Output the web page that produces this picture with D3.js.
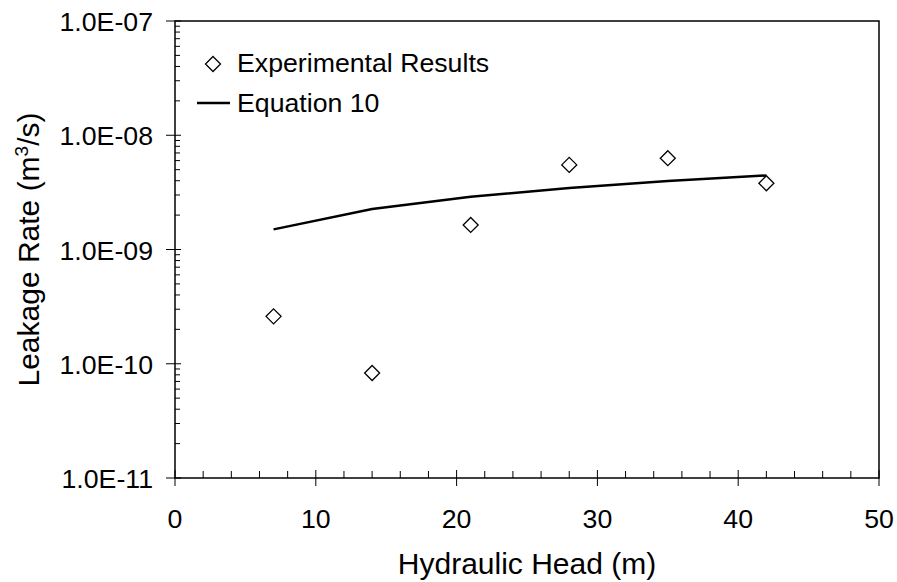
<!DOCTYPE html>
<html>
<head>
<meta charset="utf-8">
<script src="https://cdn.jsdelivr.net/npm/d3@7"></script>
<style>
  body { margin: 0; background: #fff; }
  text { font-family: "Liberation Sans", Arial, sans-serif; fill: #000; }
</style>
</head>
<body>
<svg id="chart" width="897" height="582"></svg>
<script>
// data
const heads = [7, 14, 21, 28, 35, 42]
const experimental = [2.6e-10, 8.3e-11, 1.64e-9, 5.5e-9, 6.3e-9, 3.8e-9]
const equation10 = [1.5e-9, 2.26e-9, 2.9e-9, 3.45e-9, 3.98e-9, 4.45e-9]
const xTicks = [0, 10, 20, 30, 40, 50]
const yTicks = [1e-11, 1e-10, 1e-9, 1e-8, 1e-7]

const svg = d3.select('#chart')
const plotLeft = 175
const plotRight = 879
const plotTop = 21
const plotBottom = 478
const tickFont = '26.7px'
const titleFont = '30px'

const x = d3.scaleLinear().domain([0, 50]).range([plotLeft, plotRight])
const y = d3.scaleLog().domain([1e-11, 1e-7]).range([plotBottom, plotTop])

const g = svg.append('g')

// frame
g.append('rect')
  .attr('x', plotLeft).attr('y', plotTop)
  .attr('width', plotRight - plotLeft).attr('height', plotBottom - plotTop)
  .attr('fill', 'none').attr('stroke', '#000').attr('stroke-width', 1.5)

// x minor ticks (inside)
const xMinor = d3.range(0, 50, 2).filter(v => v % 10 !== 0)
g.selectAll('.xminor').data(xMinor).enter().append('line')
  .attr('x1', d => x(d)).attr('x2', d => x(d))
  .attr('y1', plotBottom).attr('y2', plotBottom - 7)
  .attr('stroke', '#000')

// x major ticks (cross the axis)
g.selectAll('.xmajor').data(xTicks).enter().append('line')
  .attr('x1', d => x(d)).attr('x2', d => x(d))
  .attr('y1', plotBottom - 8).attr('y2', plotBottom + 8)
  .attr('stroke', '#000')

g.selectAll('.xlabel').data(xTicks).enter().append('text')
  .attr('x', d => x(d)).attr('y', 528)
  .attr('text-anchor', 'middle')
  .style('font-size', tickFont)
  .text(d => d)

// y minor ticks (inside)
const yMinor = []
yTicks.slice(0, -1).forEach(t => {
  for (let k = 2; k <= 9; k++) yMinor.push(t * k)
})
g.selectAll('.yminor').data(yMinor).enter().append('line')
  .attr('x1', plotLeft).attr('x2', plotLeft + 5)
  .attr('y1', d => y(d)).attr('y2', d => y(d))
  .attr('stroke', '#000')

g.selectAll('.ymajor').data(yTicks).enter().append('line')
  .attr('x1', plotLeft - 9).attr('x2', plotLeft + 6)
  .attr('y1', d => y(d)).attr('y2', d => y(d))
  .attr('stroke', '#000')

g.selectAll('.ylabel').data(yTicks).enter().append('text')
  .attr('x', 153).attr('y', d => y(d) + 10)
  .attr('text-anchor', 'end')
  .style('font-size', tickFont)
  .text(d => {
    const e = Math.round(Math.log10(d))
    return '1.0E-' + String(-e).padStart(2, '0')
  })

// axis titles
g.append('text')
  .attr('x', (plotLeft + plotRight) / 2).attr('y', 574)
  .attr('text-anchor', 'middle')
  .style('font-size', titleFont)
  .text('Hydraulic Head (m)')

const yt = g.append('text')
  .attr('transform', `translate(39,${(plotTop + plotBottom) / 2}) rotate(-90)`)
  .attr('text-anchor', 'middle')
  .style('font-size', titleFont)
yt.append('tspan').text('Leakage Rate (m')
yt.append('tspan').attr('dy', -11).style('font-size', '19px').text('3')
yt.append('tspan').attr('dy', 11).text('/s)')

// equation line
const line = d3.line().x((d, i) => x(heads[i])).y(d => y(d))
g.append('path')
  .datum(equation10)
  .attr('d', line)
  .attr('fill', 'none')
  .attr('stroke', '#000')
  .attr('stroke-width', 2.5)

// experimental diamonds
const diamond = 'M0,-7.5L7.5,0L0,7.5L-7.5,0Z'
g.selectAll('.pt').data(experimental).enter().append('path')
  .attr('transform', (d, i) => `translate(${x(heads[i])},${y(d)})`)
  .attr('d', diamond)
  .attr('fill', '#fff')
  .attr('stroke', '#000')
  .attr('stroke-width', 1.3)

// legend
g.append('path')
  .attr('transform', 'translate(213,64)')
  .attr('d', diamond)
  .attr('fill', '#fff').attr('stroke', '#000').attr('stroke-width', 1.3)
g.append('text').attr('x', 237).attr('y', 72).style('font-size', tickFont).text('Experimental Results')
g.append('line')
  .attr('x1', 197).attr('x2', 230).attr('y1', 103).attr('y2', 103)
  .attr('stroke', '#000').attr('stroke-width', 2.5)
g.append('text').attr('x', 237).attr('y', 112).style('font-size', tickFont).text('Equation 10')
</script>
</body>
</html>
